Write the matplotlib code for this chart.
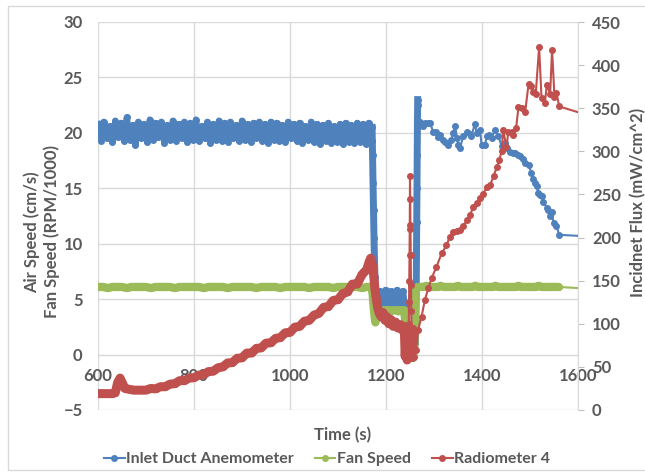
import numpy as np
import matplotlib
matplotlib.use("Agg")
import matplotlib.pyplot as plt
from matplotlib.patches import Rectangle

# -----------------------------------------------------------------------------
# Data
# -----------------------------------------------------------------------------

# Inlet duct anemometer (cm/s), dense logging before the fan trip (every 6 s)
blue_dense_v = [
    20.8, 19.3, 21.0, 19.5, 20.6, 19.2, 21.1, 19.6, 20.9, 19.3,
    21.4, 19.4, 20.7, 18.9, 21.0, 19.5, 20.8, 19.2, 21.2, 19.4,
    20.9, 19.6, 21.0, 19.1, 20.7, 19.4, 21.1, 19.3, 20.8, 19.5,
    21.0, 19.2, 20.9, 19.4, 21.2, 19.3, 20.6, 19.5, 21.0, 19.1,
    20.8, 19.4, 21.1, 19.3, 20.9, 19.2, 21.0, 19.5, 20.7, 19.3,
    21.1, 19.4, 20.8, 19.2, 20.9, 19.5, 21.0, 19.3, 20.8, 19.1,
    21.0, 19.4, 20.9, 19.3, 20.7, 19.2, 21.0, 19.5, 20.8, 19.3,
    20.9, 19.1, 20.6, 19.4, 21.0, 19.2, 20.8, 19.0, 20.7, 19.3,
    20.9, 19.1, 20.6, 19.2, 20.8, 19.0, 20.9, 19.2, 20.7, 19.1,
    20.9, 19.2, 20.8, 19.0, 20.9, 19.3,
]
blue_dense_t = 600 + 6 * np.arange(len(blue_dense_v))

# drop when the fan trips
blue_drop_t = [1171, 1172, 1173, 1174, 1175, 1176, 1177, 1178, 1179]
blue_drop_v = [20.5, 18.0, 15.5, 13.0, 10.5, 8.5, 7.0, 5.8, 5.2]

# fan-off plateau (every 3 s)
blue_low_v = [5.6, 4.6, 5.7, 4.5, 5.6, 4.6, 5.8, 4.5, 5.6, 4.6,
              5.7, 4.4, 5.6, 4.6, 5.8, 4.5, 5.6, 4.6, 5.7, 4.4]
blue_low_t = 1181 + 3 * np.arange(len(blue_low_v))

# second trip and restart spike
blue_spike_t = [1240, 1243, 1246, 1249, 1252, 1255, 1258, 1261, 1262, 1263,
                1263.5, 1264, 1264.5, 1265, 1265.5, 1266]
blue_spike_v = [3.0, 1.0, 0.5, 1.2, 0.8, 1.5, 2.5, 1.0, 3.0, 6.0,
                9.0, 12.0, 15.0, 18.0, 21.0, 23.0]

blue_tail_t = [1267, 1268, 1271, 1277, 1282, 1288, 1292, 1298, 1305,
               1308, 1312, 1318, 1323, 1330, 1336, 1340, 1344, 1348, 1351,
               1354, 1361, 1368, 1374, 1378, 1385, 1389, 1396, 1399, 1406,
               1410, 1415, 1420, 1427, 1434, 1441, 1448, 1453, 1458, 1464,
               1469, 1474, 1479, 1485, 1490, 1497, 1503, 1507, 1510, 1514,
               1517, 1521, 1524, 1528, 1535, 1538, 1542, 1545, 1549, 1555,
               1561, 1650]
blue_tail_v = [22.5, 20.6, 21.0, 20.6, 20.9, 20.9, 20.9, 20.1, 20.1,
               19.6, 19.8, 19.4, 19.2, 18.9, 19.4, 20.0, 20.6, 19.5, 18.9,
               18.6, 19.7, 20.1, 19.9, 19.7, 20.8, 20.0, 20.3, 18.9, 18.9,
               19.7, 19.8, 19.5, 20.3, 19.7, 18.8, 19.1, 18.6, 18.3, 18.2,
               18.2, 18.0, 17.9, 17.6, 17.3, 17.1, 16.4, 15.8, 15.5, 15.2,
               14.6, 14.4, 14.3, 13.8, 13.2, 13.0, 12.5, 12.9, 11.9, 11.6,
               10.8, 10.6]

# Fan speed (RPM/1000)
green_dense_v = [
    6.1, 6.1, 6.0, 6.1, 6.1, 6.1, 6.0, 6.1, 6.1, 6.1,
    6.1, 6.0, 6.1, 6.1, 6.1, 6.1, 6.0, 6.1, 6.1, 6.1,
    6.1, 6.1, 6.0, 6.1, 6.1, 6.1, 6.1, 6.0, 6.1, 6.1,
    6.1, 6.1, 6.1, 6.0, 6.1, 6.1, 6.1, 6.1, 6.0, 6.1,
    6.1, 6.1, 6.1, 6.1, 6.0, 6.1, 6.1, 6.1, 6.1, 6.0,
    6.1, 6.1, 6.1, 6.1, 6.1, 6.0, 6.1, 6.1,
]
green_dense_t = 600 + 10 * np.arange(len(green_dense_v))

green_mid_t = [1172, 1174, 1176, 1178, 1182, 1186, 1190, 1194, 1198, 1202,
               1206, 1210, 1214, 1218, 1222, 1226, 1230, 1234, 1238, 1240,
               1241, 1242, 1244, 1248, 1252, 1256, 1259, 1260, 1261, 1262]
green_mid_v = [5.5, 4.5, 3.5, 2.9, 3.8, 4.0, 4.0, 3.9, 4.0, 4.0,
               4.0, 3.9, 4.0, 4.0, 4.0, 3.9, 4.0, 4.0, 4.0, 3.0,
               2.0, 1.0, 0.0, -0.3, -0.2, -0.3, 0.5, 2.5, 4.5, 5.8]

green_late_v = [
    6.1, 6.1, 6.1, 6.2, 6.1, 6.1, 6.1, 6.1, 6.2, 6.1,
    6.1, 6.1, 6.1, 6.1, 6.2, 6.1, 6.1, 6.1, 6.1, 6.1,
    6.2, 6.1, 6.1, 6.1, 6.1, 6.1, 6.1, 6.2, 6.1, 6.1,
    6.1, 6.1, 6.1, 6.1, 6.1, 6.2, 6.1, 6.1, 6.1, 6.1,
    6.1, 6.1, 6.2, 6.1, 6.1, 6.1, 6.1, 6.1, 6.1, 6.1,
]
green_late_t = 1266 + 6 * np.arange(len(green_late_v))
green_end_t = [1640]
green_end_v = [5.9]

# Radiometer 4 (mW/cm^2)
red_start_t = [600, 610, 620, 630, 636, 641, 646, 651, 656, 665, 675, 690]
red_start_v = [19, 19, 19, 19, 20, 32, 37, 31, 25, 24, 23, 23]

red_ramp_v = [23, 25, 24.5, 27, 27, 30, 30.5, 34, 34, 37,
              37.5, 40.5, 41, 44.5, 45, 49, 50, 54.5, 55, 60,
              60.5, 66, 66, 71.5, 72, 77.5, 78, 83, 84, 89.5,
              90, 96, 97, 103, 104, 110, 112, 119, 120, 127,
              128, 135, 137, 146, 146, 157, 163]
red_ramp_t = 700 + 10 * np.arange(len(red_ramp_v))

red_trip_t = [1165, 1168, 1171, 1174, 1177, 1180, 1183, 1186, 1190, 1194,
              1198, 1202, 1206, 1210, 1215, 1220, 1225, 1230, 1235, 1238,
              1240, 1242, 1244, 1246]
red_trip_v = [172, 176, 170, 158, 140, 128, 118, 112, 108, 113,
              104, 108, 100, 105, 97, 102, 95, 99, 92, 97,
              62, 85, 58, 90]

red_tail_t = [1247.5, 1248, 1248.5, 1249, 1249.5, 1250, 1250.5, 1251,
              1251.5, 1252, 1252.5, 1253,
              1255, 1257, 1259, 1261, 1263, 1267, 1274, 1281, 1288, 1295,
              1305, 1316, 1326, 1333, 1340, 1348, 1354, 1361, 1368, 1375,
              1382, 1389, 1396, 1403, 1410, 1417, 1424, 1431, 1436, 1441,
              1444, 1451, 1455, 1462, 1465, 1471, 1476, 1483, 1490, 1497,
              1502, 1506, 1512, 1519, 1524, 1531, 1535, 1542, 1546, 1551,
              1555, 1561, 1650]
red_tail_v = [100, 125, 150, 180, 215, 271, 245, 210,
              180, 145, 115, 90,
              60, 95, 62, 90, 70, 93, 108, 127.6, 141, 152.7,
              166, 181.7, 191, 201, 206.8, 208, 209, 213, 220, 226,
              236, 240, 245.5, 251, 259, 261, 271, 282, 290, 300,
              325, 305, 323, 323, 319, 327, 351, 350, 346, 378,
              376, 369, 367, 421, 362, 356, 377, 367, 418, 363,
              368, 352, 337]

x_ticks = [600, 800, 1000, 1200, 1400, 1600]
left_ticks = [-5, 0, 5, 10, 15, 20, 25, 30]
right_ticks = [0, 50, 100, 150, 200, 250, 300, 350, 400, 450]

# -----------------------------------------------------------------------------
# Plot
# -----------------------------------------------------------------------------

BLUE = "#4f81bd"
GREEN = "#9bbb59"
RED = "#c0504d"
GRID = "#d9d9d9"
TEXT = "#595959"

plt.rcParams["font.family"] = ["Lato", "DejaVu Sans"]

fig = plt.figure(figsize=(6.45, 4.74), dpi=100)
ax = fig.add_axes([98 / 645, 1 - 410 / 474, 480 / 645, 388 / 474])
ax2 = ax.twinx()

# outer chart border
fig.patches.append(Rectangle((8 / 645, 4 / 474), 1.0, 1 - 10 / 474,
                             transform=fig.transFigure, fill=False,
                             edgecolor=GRID, linewidth=1))

mk = dict(marker="o", markersize=4, linewidth=1.5)

# blue: whole series with markers, dense stretches drawn thick so they fill in
blue_t = np.concatenate([blue_dense_t, blue_drop_t, blue_low_t, blue_spike_t, blue_tail_t])
blue_v = np.concatenate([blue_dense_v, blue_drop_v, blue_low_v, blue_spike_v, blue_tail_v])
ax.plot(blue_t, blue_v, color=BLUE, zorder=3, **mk)
ax.plot(blue_dense_t, blue_dense_v, color=BLUE, linewidth=4.5, zorder=3)
ax.plot(np.concatenate([blue_drop_t, blue_low_t, blue_spike_t]),
        np.concatenate([blue_drop_v, blue_low_v, blue_spike_v]),
        color=BLUE, linewidth=5, zorder=3)

green_t = np.concatenate([green_dense_t, green_mid_t, green_late_t, green_end_t])
green_v = np.concatenate([green_dense_v, green_mid_v, green_late_v, green_end_v])
ax.plot(green_t, green_v, color=GREEN, zorder=4, **mk)
ax.plot(np.concatenate([green_dense_t, green_mid_t, green_late_t]),
        np.concatenate([green_dense_v, green_mid_v, green_late_v]),
        color=GREEN, linewidth=6, solid_capstyle="round", zorder=4)

red_t = np.concatenate([red_start_t, red_ramp_t, red_trip_t, red_tail_t])
red_v = np.concatenate([red_start_v, red_ramp_v, red_trip_v, red_tail_v])
ax2.plot(red_t, red_v, color=RED, zorder=3, **mk)
ax2.plot(np.concatenate([red_start_t, red_ramp_t, red_trip_t]),
         np.concatenate([red_start_v, red_ramp_v, red_trip_v]),
         color=RED, linewidth=6.5, solid_capstyle="round",
         solid_joinstyle="round", zorder=3)

ax.set_xlim(600, 1600)
ax.set_ylim(-5, 30)
ax2.set_ylim(0, 450)
ax.set_xticks(x_ticks)
ax.set_yticks(left_ticks)
ax2.set_yticks(right_ticks)

ax.grid(True, color=GRID, linewidth=1)
ax.set_axisbelow(True)

for s in ["top", "left", "right"]:
    ax.spines[s].set_visible(False)
for s in ["top", "left", "bottom"]:
    ax2.spines[s].set_visible(False)
ax2.spines["right"].set_color(GRID)
ax.spines["bottom"].set_position(("data", 0))
ax.spines["bottom"].set_color(GRID)

lab = dict(labelsize=12, labelcolor=TEXT)
ax.tick_params(axis="x", length=0, pad=10, **lab)
ax.tick_params(axis="y", length=0, pad=11, **lab)
ax2.tick_params(axis="y", length=4, color="#bfbfbf", pad=6, **lab)
for t in ax.get_xticklabels() + ax.get_yticklabels() + ax2.get_yticklabels():
    t.set_fontweight("bold")

fig.text(42 / 645, 1 - 232 / 474, "Air Speed (cm/s)\nFan Speed (RPM/1000)",
         rotation=90, ha="center", va="center", fontsize=12,
         fontweight="bold", color=TEXT, linespacing=1.25)
fig.text(638 / 645, 1 - 202 / 474, "Incidnet Flux (mW/cm^2)",
         rotation=90, ha="center", va="center", fontsize=12,
         fontweight="bold", color=TEXT)
fig.text(343 / 645, 1 - 435 / 474, "Time (s)", ha="center", va="center",
         fontsize=12, fontweight="bold", color=TEXT)

handles = [
    plt.Line2D([], [], color=BLUE, marker="o", markersize=4, linewidth=1.5),
    plt.Line2D([], [], color=GREEN, marker="o", markersize=4, linewidth=1.5),
    plt.Line2D([], [], color=RED, marker="o", markersize=4, linewidth=1.5),
]
leg = fig.legend(handles, ["Inlet Duct Anemometer", "Fan Speed", "Radiometer 4"],
                 loc="center", bbox_to_anchor=(327 / 645, 1 - 459 / 474),
                 ncol=3, frameon=False, handlelength=1.3, handletextpad=0.1,
                 columnspacing=1.3,
                 prop={"size": 11.5, "weight": "bold"})
for t in leg.get_texts():
    t.set_color(TEXT)

fig.savefig("out.png", dpi=100)
